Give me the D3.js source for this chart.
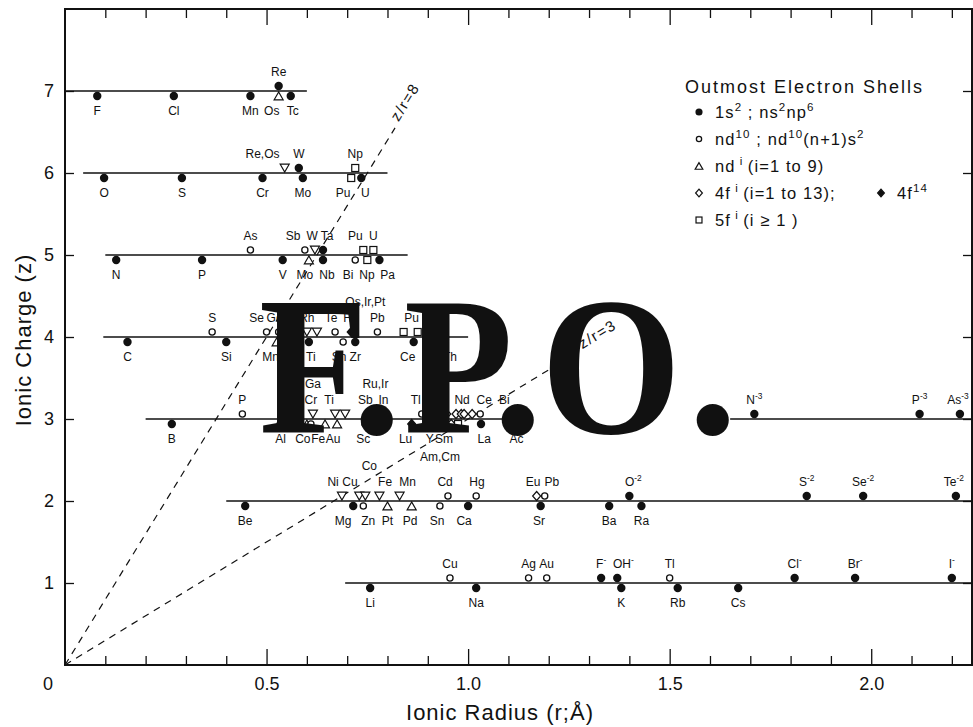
<!DOCTYPE html>
<html><head><meta charset="utf-8">
<script src="https://cdn.jsdelivr.net/npm/d3@7"></script>
<style>
body{margin:0;background:#fff;}
svg text{font-family:"Liberation Sans",Arial,sans-serif;fill:#111;}
</style></head><body>
<svg id="c" width="973" height="727"></svg>
<script>
// ---------------- data ----------------
const chargeTicks = [1,2,3,4,5,6,7];
const xMajorTicks = [0.5,1.0,1.5,2.0];
const xMinorTicks = [0.1,0.2,0.3,0.4,0.6,0.7,0.8,0.9,1.1,1.2,1.3,1.4,1.6,1.7,1.8,1.9,2.1,2.2];
// [label, radius (Å), shell, side(+1 above / -1 below), labelText?, labelRadius?]
// shell: f = 1s2;ns2np6, o = nd10, t = nd^i, d = 4f^i, D = 4f14, s = 5f^i
const ions7 = [["F",0.08,"f",-1],["Cl",0.27,"f",-1],["Mn",0.46,"f",-1],["Re",0.53,"f",1],["Os",0.53,"t",-1,"Os",0.513],["Tc",0.56,"f",-1,"Tc",0.565]];
const ions6 = [["O",0.097,"f",-1],["S",0.29,"f",-1],["Cr",0.49,"f",-1],["Re",0.545,"t",1,""],["W",0.58,"f",1],["Mo",0.59,"f",-1],["Np",0.72,"s",1],["Pu",0.71,"s",-1,"Pu",0.69],["U",0.735,"f",-1,"U",0.745]];
const ions5 = [["N",0.127,"f",-1],["P",0.34,"f",-1],["As",0.46,"o",1],["V",0.54,"f",-1],["Sb",0.595,"o",1,"Sb",0.566],["W",0.62,"t",1,"W",0.613],["Ta",0.64,"f",1,"Ta",0.65],["Mo",0.605,"t",-1,"Mo",0.595],["Nb",0.64,"f",-1,"Nb",0.65],["Pu",0.74,"s",1,"Pu",0.72],["U",0.765,"s",1,"U",0.765],["Bi",0.72,"o",-1,"Bi",0.702],["Np",0.75,"s",-1,"Np",0.749],["Pa",0.78,"f",-1,"Pa",0.80]];
const ions4 = [["C",0.155,"f",-1],["S",0.365,"o",1],["Si",0.40,"f",-1],["Se",0.50,"o",1,"Se",0.475],["Ge",0.53,"o",1,"Ge",0.52],["Mn",0.525,"t",-1,"Mn",0.51],["Ti",0.605,"f",-1,"Ti",0.61],["Rh",0.60,"t",1,"Rh",0.60],["Ir",0.625,"t",1,""],["Te",0.67,"o",1,"Te",0.66],["Hf",0.71,"D",1,"Hf",0.705],["Sn",0.69,"o",-1,"Sn",0.68],["Zr",0.72,"f",-1,"Zr",0.72],["Pb",0.775,"o",1,"Pb",0.775],["Pu",0.84,"s",1,"Pu",0.86],["U",0.875,"s",1,""],["Ce",0.865,"f",-1,"Ce",0.85],["Th",0.94,"f",-1,"Th",0.955]];
const ions3 = [["B",0.265,"f",-1],["P",0.44,"o",1],["Al",0.535,"f",-1],["Co",0.60,"t",-1,"Co",0.59],["Ga",0.61,"o",-1,""],["Fe",0.645,"t",-1,"Fe",0.628],["Au",0.675,"t",-1,"Au",0.665],["Cr",0.615,"t",1,"Cr",0.61],["Ti",0.67,"t",1,"Ti",0.655],["V",0.695,"t",1,""],["Sc",0.745,"f",-1,"Sc",0.74],["Sb",0.76,"o",1,"Sb",0.745],["In",0.79,"o",1,"In",0.79],["Tl",0.885,"o",1,"Tl",0.87],["Lu",0.86,"D",-1,"Lu",0.845],["Y",0.90,"f",-1,"Y",0.905],["Sm",0.958,"d",-1,"Sm",0.94],["Am",0.975,"s",-1,""],["Gd",0.938,"d",1,""],["Eu",0.947,"d",1,""],["Pm",0.97,"d",1,""],["Nd",0.983,"d",1,"Nd",0.985],["Pr",0.99,"d",1,""],["Ce",1.01,"d",1,"Ce",1.04],["Bi",1.03,"o",1,"Bi",1.09],["La",1.032,"f",-1,"La",1.04],["Ac",1.12,"f",-1],["N^{-3}",1.71,"f",1],["P^{-3}",2.12,"f",1],["As^{-3}",2.22,"f",1,"As^{-3}",2.215]];
const ions2 = [["Be",0.447,"f",-1],["Ni",0.687,"t",1,"Ni",0.665],["Mg",0.715,"f",-1,"Mg",0.69],["Cu",0.73,"t",1,"Cu",0.707],["Zn",0.74,"o",-1,"Zn",0.752],["Co",0.745,"t",1,""],["Fe",0.78,"t",1,"Fe",0.794],["Pt",0.80,"t",-1,"Pt",0.80],["Mn",0.83,"t",1,"Mn",0.85],["Pd",0.86,"t",-1,"Pd",0.856],["Sn",0.93,"o",-1,"Sn",0.923],["Cd",0.95,"o",1,"Cd",0.943],["Ca",1.00,"f",-1,"Ca",0.99],["Hg",1.02,"o",1,"Hg",1.022],["Eu",1.17,"d",1,"Eu",1.161],["Sr",1.18,"f",-1,"Sr",1.176],["Pb",1.19,"o",1,"Pb",1.208],["Ba",1.35,"f",-1],["O^{-2}",1.40,"f",1,"O^{-2}",1.41],["Ra",1.43,"f",-1],["S^{-2}",1.84,"f",1],["Se^{-2}",1.98,"f",1],["Te^{-2}",2.21,"f",1,"Te^{-2}",2.205]];
const ions1 = [["Li",0.757,"f",-1],["Cu",0.955,"o",1],["Na",1.02,"f",-1],["Ag",1.15,"o",1],["Au",1.195,"o",1],["F^{-}",1.33,"f",1],["OH^{-}",1.37,"f",1,"OH^{-}",1.385],["K",1.38,"f",-1],["Tl",1.50,"o",1],["Rb",1.52,"f",-1],["Cs",1.67,"f",-1],["Cl^{-}",1.81,"f",1],["Br^{-}",1.96,"f",1],["I^{-}",2.20,"f",1]];
const rows = [[7,ions7],[6,ions6],[5,ions5],[4,ions4],[3,ions3],[2,ions2],[1,ions1]];
// horizontal reference lines [charge, r from, r to]
const chargeLines = [[7,0,0.60],[6,0.045,0.80],[5,0.10,0.85],[4,0.095,1.0],[3,0.20,1.16],[3,1.65,2.25],[2,0.40,2.25],[1,0.695,2.25]];
// grouped labels [text, r, z, side, tier]
const groupLabels = [["Re,Os",0.49,6,1,1],["Os,Ir,Pt",0.745,4,1,2],["Ga",0.615,3,1,2],["Ru,Ir",0.77,3,1,2],["Am,Cm",0.93,3,-1,2],["Co",0.755,2,1,2]];
// z/r ratio lines [ratio, z where dashes stop, z where label starts]
const ratioLines = [[8,6.55,6.62],[3,3.75,3.85]];
const legendItems = [["f","1s^{2} ; ns^{2}np^{6}"],["o","nd^{10} ; nd^{10}(n+1)s^{2}"],["t","nd^{ i }(i=1 to 9)"],["d","4f^{ i }(i=1 to 13);"],["s","5f^{ i }(i ≥ 1 )"]];

// ---------------- drawing ----------------
const svg = d3.select("#c");
const xs = d3.scaleLinear().domain([0,2.25]).range([65,972]);
const ys = d3.scaleLinear().domain([0,8]).range([665,9]);
const INK = "#111";

function rich(t, str, fs){
  let raised = false;
  str.split(/(\^\{[^}]*\})/).forEach(p=>{
    if(!p) return;
    const sup = p.startsWith("^{");
    const ts = t.append("tspan").text(sup ? p.slice(2,-1) : p);
    if(sup){ ts.attr("font-size", fs*0.7); if(!raised){ ts.attr("dy", -fs*0.42); raised = true; } }
    else if(raised){ ts.attr("dy", fs*0.42); raised = false; }
  });
}
function marker(g, shell, side, cx, cy, k){
  k = k || 1;
  if(shell==="f") g.append("circle").attr("cx",cx).attr("cy",cy).attr("r",4.2*k).attr("fill",INK);
  else if(shell==="o") g.append("circle").attr("cx",cx).attr("cy",cy).attr("r",3.1*k).attr("fill","#fff").attr("stroke",INK).attr("stroke-width",1.3);
  else if(shell==="t"){
    const pts = side>0 ? [[-4.5,-3.8],[4.5,-3.8],[0,4]] : [[0,-4],[-4.5,3.8],[4.5,3.8]];
    g.append("path").attr("d","M"+pts.map(p=>[cx+p[0]*k,cy+p[1]*k].join(",")).join("L")+"Z").attr("fill","#fff").attr("stroke",INK).attr("stroke-width",1.2);
  } else if(shell==="d"||shell==="D"){
    g.append("path").attr("d",`M${cx},${cy-4.5*k}L${cx+4*k},${cy}L${cx},${cy+4.5*k}L${cx-4*k},${cy}Z`).attr("fill",shell==="D"?INK:"#fff").attr("stroke",INK).attr("stroke-width",1.2);
  } else if(shell==="s"){
    g.append("rect").attr("x",cx-3.5*k).attr("y",cy-3.5*k).attr("width",7*k).attr("height",7*k).attr("fill","#fff").attr("stroke",INK).attr("stroke-width",1.2);
  }
}

// axes (ticks inward)
function styleAxis(g){ g.select(".domain").remove(); g.selectAll("line").attr("stroke",INK).attr("stroke-width",1.3); g.selectAll("text").attr("font-size",18).attr("font-family","Liberation Sans, Arial, sans-serif").attr("fill",INK); }
svg.append("g").attr("transform",`translate(0,${ys(0)})`).call(d3.axisBottom(xs).tickValues(xMinorTicks).tickSizeInner(-9).tickSizeOuter(0).tickFormat("")).call(styleAxis);
svg.append("g").attr("transform",`translate(0,${ys(0)})`).call(d3.axisBottom(xs).tickValues(xMajorTicks).tickSizeInner(-16).tickSizeOuter(0).tickPadding(12).tickFormat(d3.format(".1f"))).call(styleAxis);
svg.append("g").attr("transform",`translate(0,${ys(8)})`).call(d3.axisTop(xs).tickValues(xMinorTicks).tickSizeInner(-9).tickSizeOuter(0).tickFormat("")).call(styleAxis);
svg.append("g").attr("transform",`translate(0,${ys(8)})`).call(d3.axisTop(xs).tickValues(xMajorTicks).tickSizeInner(-16).tickSizeOuter(0).tickFormat("")).call(styleAxis);
svg.append("g").attr("transform",`translate(${xs(0)},0)`).call(d3.axisLeft(ys).tickValues(chargeTicks).tickSizeInner(-9).tickSizeOuter(0).tickPadding(11).tickFormat(d3.format("d"))).call(styleAxis);
svg.append("g").attr("transform",`translate(${xs(2.25)},0)`).call(d3.axisRight(ys).tickValues(chargeTicks).tickSizeInner(-9).tickSizeOuter(0).tickFormat("")).call(styleAxis);
svg.append("text").attr("x",xs(0)-17).attr("y",ys(0)+12).attr("dy","0.71em").attr("text-anchor","middle").attr("font-size",18).text("0");
svg.append("rect").attr("x",xs(0)).attr("y",ys(8)).attr("width",xs(2.25)-xs(0)).attr("height",ys(0)-ys(8)).attr("fill","none").attr("stroke",INK).attr("stroke-width",2);

// axis titles
svg.append("text").attr("x",500).attr("y",720).attr("text-anchor","middle").attr("font-size",22).attr("letter-spacing",1).text("Ionic Radius (r;Å)");
svg.append("text").attr("transform","translate(31,340) rotate(-90)").attr("text-anchor","middle").attr("font-size",22).attr("letter-spacing",1).text("Ionic Charge (z)");

// z/r lines
const rl = svg.append("g");
ratioLines.forEach(([k,zEnd,zLab])=>{
  rl.append("line").attr("x1",xs(0)).attr("y1",ys(0)).attr("x2",xs(zEnd/k)).attr("y2",ys(zEnd))
    .attr("stroke",INK).attr("stroke-width",1.2).attr("stroke-dasharray","7,6");
  const ang = Math.atan2(ys(0)-ys(k), xs(1)-xs(0))*180/Math.PI;
  rl.append("text").attr("transform",`translate(${xs(zLab/k)},${ys(zLab)}) rotate(${-ang})`)
    .attr("font-size",15).attr("letter-spacing",1.5).text("z/r=" + k);
});

// charge lines
svg.append("g").selectAll("line").data(chargeLines).join("line")
  .attr("x1",d=>xs(d[1])).attr("x2",d=>xs(d[2])).attr("y1",d=>ys(d[0])).attr("y2",d=>ys(d[0]))
  .attr("stroke",INK).attr("stroke-width",1.3);

// ions
const LFS = 12;
const pg = svg.append("g");
rows.forEach(([z,list])=>{
  list.forEach(d=>{
    const [name,r,shell,side] = d;
    const lab = d.length>4 ? d[4] : name;
    const lr = d.length>5 ? d[5] : r;
    marker(pg, shell, side, xs(r), ys(z) - side*5);
    if(lab){
      const t = pg.append("text").attr("x",xs(lr)).attr("y", side>0 ? ys(z)-15 : ys(z)+24)
        .attr("text-anchor","middle").attr("font-size",LFS);
      rich(t, lab, LFS);
    }
  });
});
groupLabels.forEach(([txt,r,z,side,tier])=>{
  const off = tier===2 ? (side>0 ? -31 : 42) : (side>0 ? -15 : 24);
  pg.append("text").attr("x",xs(r)).attr("y",ys(z)+off).attr("text-anchor","middle").attr("font-size",LFS).text(txt);
});

// legend
const lg = svg.append("g");
lg.append("text").attr("x",685).attr("y",93).attr("font-size",18).attr("letter-spacing",2).text("Outmost Electron Shells");
legendItems.forEach(([shell,label],i)=>{
  const cy = 112 + i*27;
  marker(lg, shell, -1, 699, cy, 0.85);
  const t = lg.append("text").attr("x",715).attr("y",cy+6).attr("font-size",16.5).attr("letter-spacing",1.1);
  rich(t,label,16.5);
  if(shell==="d"){
    marker(lg,"D",-1,881,cy,0.85);
    const t2 = lg.append("text").attr("x",897).attr("y",cy+6).attr("font-size",16.5).attr("letter-spacing",1.1);
    rich(t2,"4f^{14}",16.5);
  }
});

// F.P.O. watermark
const wm = svg.append("g");
[["F",259,0.9],[".",352,1],["P",404,0.9],[".",493,1],["O",541,0.91],[".",688,1]].forEach(([c,x,sx])=>{
  wm.append("text").attr("transform",`translate(${x},433) scale(${sx},1)`).attr("fill","#000")
    .style("font-family","Liberation Serif, Times New Roman, serif").style("font-weight","bold").style("font-size","198px").text(c);
});
</script>
</body></html>
